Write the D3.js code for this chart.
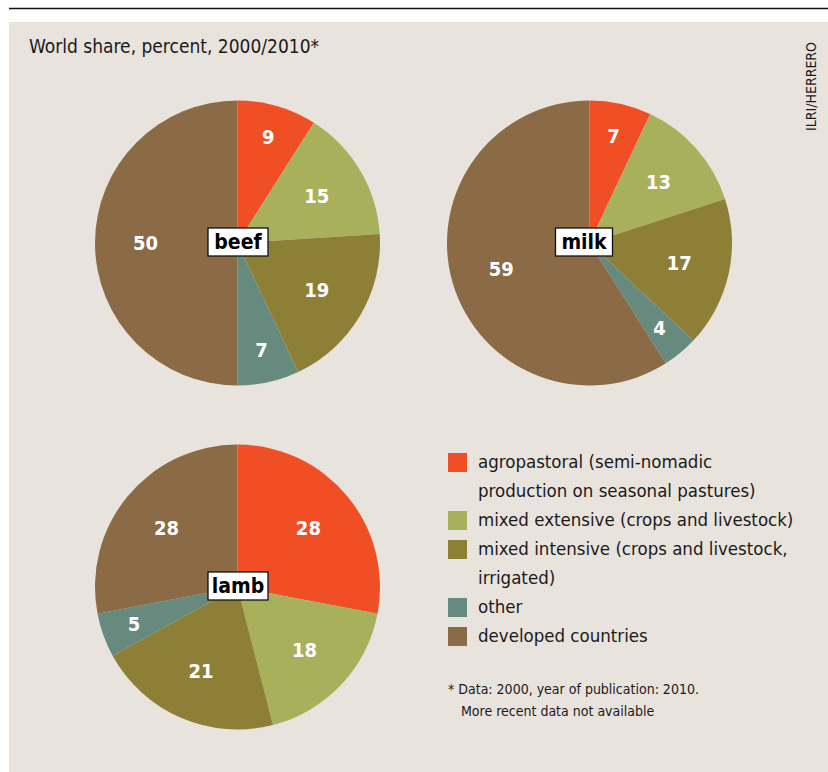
<!DOCTYPE html>
<html><head><meta charset="utf-8">
<script src="https://cdn.jsdelivr.net/npm/d3@7"></script>
<style>
body{margin:0;background:#fff;}
svg{display:block;}
text{font-family:"DejaVu Sans Condensed","Roboto",sans-serif;}
</style></head><body>
<svg id="c" width="828" height="772"></svg>
<script>
const categories = ["agropastoral (semi-nomadic production on seasonal pastures)",
  "mixed extensive (crops and livestock)",
  "mixed intensive (crops and livestock, irrigated)",
  "other",
  "developed countries"];
const legendLines = [["agropastoral (semi-nomadic", "production on seasonal pastures)"],
  ["mixed extensive (crops and livestock)"],
  ["mixed intensive (crops and livestock,", "irrigated)"],
  ["other"],
  ["developed countries"]];
const colors = ["#f04e25", "#a8b05c", "#8e7f37", "#678a7e", "#8b6a46"];
const pieNames = ["beef", "milk", "lamb"];
const beefValues = [9, 15, 19, 7, 50];
const milkValues = [7, 13, 17, 4, 59];
const lambValues = [28, 18, 21, 5, 28];
const title = "World share, percent, 2000/2010*";
const credit = "ILRI/HERRERO";
const footnote = ["* Data: 2000, year of publication: 2010.", "More recent data not available"];

const svg = d3.select("#c");
svg.append("rect").attr("x", 9).attr("y", 22).attr("width", 819).attr("height", 750).attr("fill", "#e9e3dd");
svg.append("line").attr("x1", 9).attr("x2", 828).attr("y1", 8.5).attr("y2", 8.5).attr("stroke", "#111").attr("stroke-width", 1.5);

svg.append("text").attr("x", 29).attr("y", 53).attr("font-size", 19).attr("fill", "#1a1a1a").text(title);
svg.append("text").attr("transform", "translate(811,42) rotate(-90)").attr("text-anchor", "end")
  .attr("dy", "0.35em").attr("font-size", 14).attr("fill", "#1a1a1a").text(credit);

const R = 142.5;
const pies = [
  {name: pieNames[0], values: beefValues, cx: 237.5, cy: 243, bx: 238},
  {name: pieNames[1], values: milkValues, cx: 589.5, cy: 243, bx: 584},
  {name: pieNames[2], values: lambValues, cx: 237.5, cy: 587, bx: 238}
];
const pie = d3.pie().sort(null).value(d => d);
const arc = d3.arc().innerRadius(0).outerRadius(R);

pies.forEach(p => {
  const g = svg.append("g").attr("transform", `translate(${p.cx},${p.cy})`);
  const arcs = pie(p.values);
  g.selectAll("path").data(arcs).join("path")
    .attr("d", arc).attr("fill", (d, i) => colors[i]);
  g.selectAll("text.v").data(arcs).join("text").attr("class", "v")
    .attr("transform", d => {
      const lr = d.data < 10 ? 110 : 92;
      const c = d3.arc().innerRadius(lr).outerRadius(lr).centroid(d);
      return `translate(${c[0]},${c[1]})`;
    })
    .attr("text-anchor", "middle").attr("dy", "0.35em")
    .attr("font-size", 20).attr("font-weight", "bold").attr("fill", "#fff")
    .text(d => d.data);
  const lb = svg.append("g").attr("transform", `translate(${p.bx},${p.cy - 1})`);
  const w = p.name === "milk" ? 57 : 60;
  lb.append("rect").attr("x", -w / 2).attr("y", -14).attr("width", w).attr("height", 28)
    .attr("fill", "#fff").attr("stroke", "#111").attr("stroke-width", 1.3);
  lb.append("text").attr("text-anchor", "middle").attr("dy", "0.35em")
    .attr("font-size", 21).attr("font-weight", "bold").attr("fill", "#000").text(p.name);
});

// legend
const lg = svg.append("g");
let ly = 462;
legendLines.forEach((lines, i) => {
  lg.append("rect").attr("x", 448).attr("y", ly - 9).attr("width", 19).attr("height", 19).attr("fill", colors[i]);
  lines.forEach((s, j) => {
    lg.append("text").attr("x", 478).attr("y", ly + j * 29).attr("dy", "0.35em")
      .attr("font-size", 18.5).attr("fill", "#1a1a1a").text(s);
  });
  ly += lines.length * 29;
});

svg.append("text").attr("x", 448).attr("y", 694).attr("font-size", 14).attr("fill", "#1a1a1a").text(footnote[0]);
svg.append("text").attr("x", 461).attr("y", 716).attr("font-size", 14).attr("fill", "#1a1a1a").text(footnote[1]);
</script>
</body></html>
